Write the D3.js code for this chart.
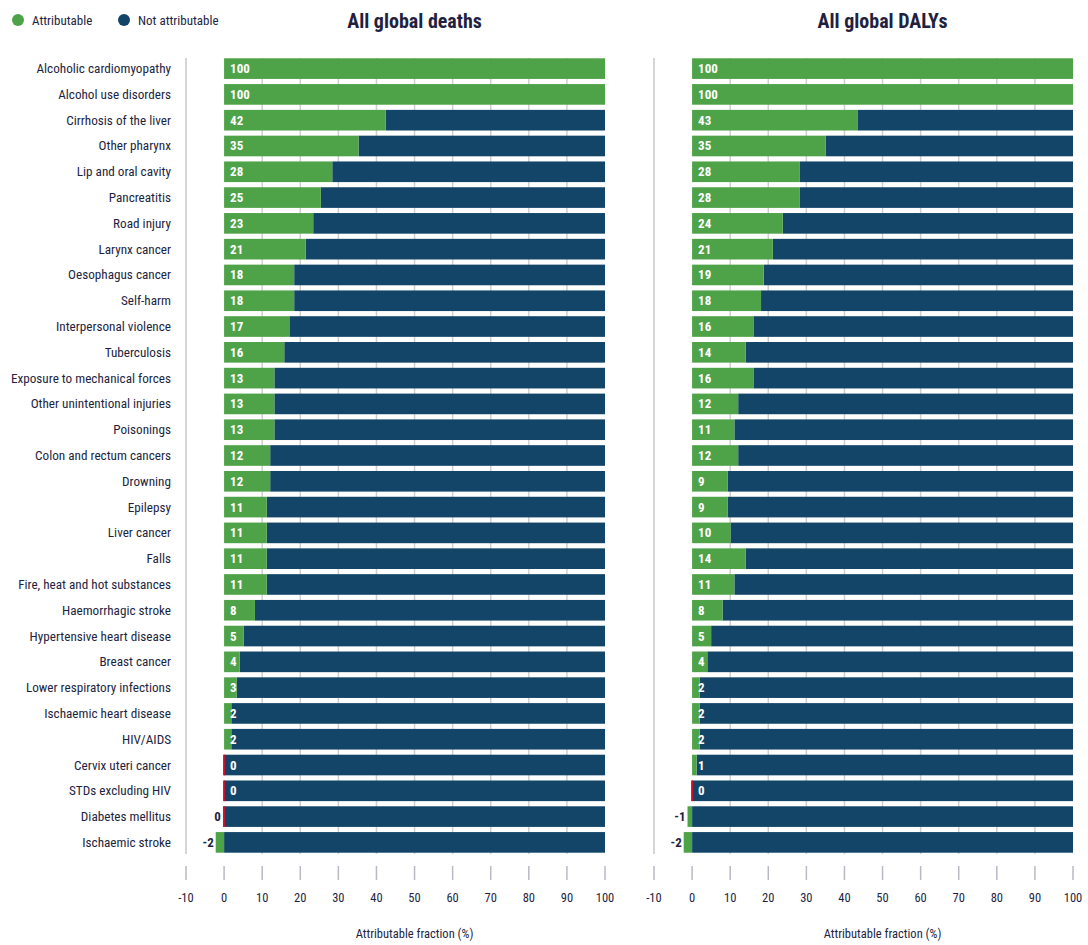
<!DOCTYPE html>
<html><head><meta charset="utf-8">
<script src="https://cdn.jsdelivr.net/npm/d3@7"></script>
<style>
body{margin:0;background:#fff;}
svg{font-family:"Liberation Sans Narrow","Roboto Condensed","Arial Narrow",sans-serif;}
</style></head>
<body><svg id="c" width="1088" height="945"></svg>
<script>
const categories = ["Alcoholic cardiomyopathy","Alcohol use disorders","Cirrhosis of the liver","Other pharynx","Lip and oral cavity","Pancreatitis","Road injury","Larynx cancer","Oesophagus cancer","Self-harm","Interpersonal violence","Tuberculosis","Exposure to mechanical forces","Other unintentional injuries","Poisonings","Colon and rectum cancers","Drowning","Epilepsy","Liver cancer","Falls","Fire, heat and hot substances","Haemorrhagic stroke","Hypertensive heart disease","Breast cancer","Lower respiratory infections","Ischaemic heart disease","HIV/AIDS","Cervix uteri cancer","STDs excluding HIV","Diabetes mellitus","Ischaemic stroke"];
const deaths = [100,100,42.4,35.3,28.4,25.4,23.4,21.4,18.4,18.4,17.3,15.8,13.2,13.2,13.2,12.1,12.1,11.2,11.2,11.2,11.2,8.1,5.1,4.1,3.3,1.9,1.9,0,0,-0.3,-2.2];
const dalys = [100,100,43.4,35.1,28.3,28.3,23.8,21.2,18.8,18.1,16.1,14.1,16.1,12.1,11.1,12.1,9.3,9.3,10.1,14.1,11.1,8.0,5.0,4.0,2.0,2.0,2.0,1.2,0,-1.2,-2.2];
const xTicks = [-10,0,10,20,30,40,50,60,70,80,90,100];
const panelTitles = ["All global deaths","All global DALYs"];
const legendLabels = ["Attributable","Not attributable"];
const axisTitle = "Attributable fraction (%)";

const GREEN = "#4ea247", NAVY = "#134569", TXT = "#231f3f";
const svg = d3.select("#c");

const y = d3.scaleBand().domain(categories).range([57, 854]).paddingInner(0.2).paddingOuter(0.05);

// legend
const lg = svg.append("g");
[[GREEN,18,32],[NAVY,124,138]].forEach((d,i)=>{
  lg.append("circle").attr("cx",d[1]).attr("cy",20).attr("r",6).attr("fill",d[0]);
  lg.append("text").attr("x",d[2]).attr("y",25).attr("font-size",13).attr("fill",TXT).text(legendLabels[i]);
});

// category labels
svg.append("g").selectAll("text").data(categories).join("text")
  .attr("x",171).attr("y",d=>y(d)+y.bandwidth()/2+4.5)
  .attr("text-anchor","end").attr("font-size",13.2).attr("fill",TXT).text(d=>d);

function panel(x0, x1, vals, title){
  const x = d3.scaleLinear().domain([-10,100]).range([x0,x1]);
  const g = svg.append("g");
  g.append("text").attr("x",(x(0)+x(100))/2).attr("y",28).attr("text-anchor","middle")
    .attr("font-size",20).attr("font-weight","bold").attr("fill",TXT).text(title);
  // axis line at -10
  g.append("line").attr("x1",x(-10)).attr("x2",x(-10)).attr("y1",58).attr("y2",854)
    .attr("stroke","#c8c8c8").attr("stroke-width",1.5);
  // gridlines
  g.append("g").selectAll("line").data(xTicks.filter(t=>t>0&&t<100)).join("line")
    .attr("x1",d=>x(d)).attr("x2",d=>x(d)).attr("y1",58).attr("y2",854)
    .attr("stroke","#cfcfcf").attr("stroke-width",1.5);
  const rows = g.append("g").selectAll("g").data(categories.map((c,i)=>({c,v:vals[i]}))).join("g");
  rows.append("rect").attr("x",d=>x(Math.max(0,d.v))).attr("y",d=>y(d.c))
    .attr("width",d=>Math.max(0,x(100)-x(Math.max(0,d.v)))).attr("height",y.bandwidth()).attr("fill",NAVY);
  rows.append("rect").attr("x",d=>x(Math.min(0,d.v))).attr("y",d=>y(d.c))
    .attr("width",d=>Math.abs(x(d.v)-x(0))).attr("height",y.bandwidth()).attr("fill",GREEN);
  rows.filter(d=>Math.round(d.v)===0 && Math.abs(d.v)<0.5).append("rect")
    .attr("x",x(0)-1).attr("y",d=>y(d.c)).attr("width",2).attr("height",y.bandwidth()).attr("fill","#c8102e");
  rows.append("text")
    .attr("x",d=>d.v<0?x(d.v)-2:x(0)+6)
    .attr("y",d=>y(d.c)+y.bandwidth()/2+4.5)
    .attr("text-anchor",d=>d.v<0?"end":"start")
    .attr("font-size",13).attr("font-weight","bold")
    .attr("fill",d=>d.v<0?TXT:"#fff")
    .text(d=>{const r=Math.round(d.v);return r===0?"0":String(r);});
  // bottom ticks
  const ax = g.append("g");
  ax.selectAll("line").data(xTicks).join("line")
    .attr("x1",d=>x(d)).attr("x2",d=>x(d)).attr("y1",866).attr("y2",880)
    .attr("stroke","#b9b9c6").attr("stroke-width",1.5);
  ax.selectAll("text").data(xTicks).join("text")
    .attr("x",d=>x(d)).attr("y",902).attr("text-anchor","middle")
    .attr("font-size",12.5).attr("fill",TXT).text(d=>d);
  g.append("text").attr("x",(x(0)+x(100))/2).attr("y",938).attr("text-anchor","middle")
    .attr("font-size",12.5).attr("fill",TXT).text(axisTitle);
}
panel(186, 605, deaths, panelTitles[0]);
panel(654, 1073, dalys, panelTitles[1]);
</script></body></html>
